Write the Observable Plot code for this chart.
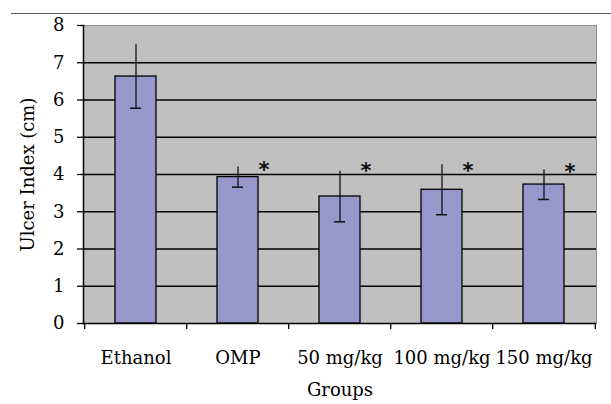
<!DOCTYPE html>
<html>
<head>
<meta charset="utf-8">
<script src="https://cdn.jsdelivr.net/npm/d3@7"></script>
<script src="https://cdn.jsdelivr.net/npm/@observablehq/plot@0.6"></script>
<style>
  html, body { margin: 0; padding: 0; background: white; }
  #wrap { position: relative; width: 611px; height: 404px; }
  #rule { position: absolute; left: 11px; top: 13px; width: 600px; height: 1px; background: #5a5a5a; }
</style>
</head>
<body>
<div id="wrap"><div id="rule"></div></div>
<script>
const groups = ["Ethanol", "OMP", "50 mg/kg", "100 mg/kg", "150 mg/kg"];
const means = [6.63, 3.93, 3.41, 3.59, 3.73];
const errors = [0.85, 0.27, 0.68, 0.67, 0.40];
const starGroups = ["OMP", "50 mg/kg", "100 mg/kg", "150 mg/kg"];
const starY = [4.19, 4.17, 4.17, 4.13];
const yTicks = [0, 1, 2, 3, 4, 5, 6, 7, 8];
const gridValues = [1, 2, 3, 4, 5, 6, 7];

const data = groups.map((g, i) => ({group: g, mean: means[i], err: errors[i]}));
const stars = starGroups.map((g, i) => ({group: g, y: starY[i]}));

const W = 611, H = 404, mL = 83, mR = 15, mT = 25, mB = 81;
const pI = 0.6, pO = 0.3;
const step = (W - mL - mR) / (groups.length - pI + 2 * pO);

const chart = Plot.plot({
  width: W, height: H,
  marginTop: mT, marginBottom: mB, marginLeft: mL, marginRight: mR,
  style: {fontFamily: "DejaVu Serif", fontSize: "18px", background: "transparent", color: "black"},
  x: {domain: groups, paddingInner: pI, paddingOuter: pO, label: null},
  y: {domain: [0, 8], label: null},
  marks: [
    Plot.frame({fill: "#c0c0c0", stroke: "#8c8c8c"}),
    Plot.ruleY(gridValues, {stroke: "black", strokeWidth: 1.5}),
    Plot.barY(data, {x: "group", y: "mean", fill: "#9797cc", stroke: "black", strokeWidth: 1.3}),
    Plot.ruleX(data, {x: "group", y1: d => d.mean - d.err, y2: d => d.mean + d.err, stroke: "#111", strokeWidth: 1.3}),
    Plot.tickY(data, {x: "group", y: d => d.mean - d.err, insetLeft: 15, insetRight: 15, stroke: "#111", strokeWidth: 1.5}),
    Plot.text(stars, {x: "group", y: "y", text: () => "*", dx: 26, dy: 3, fontSize: 21, fontWeight: "bold", fontFamily: "DejaVu Sans", fill: "#111"}),
    Plot.ruleX(groups, {x: d => d, dx: -step / 2, y1: 0, y2: -0.16, stroke: "black", strokeWidth: 1.3}),
    Plot.ruleX(groups.slice(-1), {x: d => d, dx: step / 2, y1: 0, y2: -0.16, stroke: "black", strokeWidth: 1.3}),
    Plot.ruleY([0], {stroke: "black", strokeWidth: 1.5}),
    Plot.frame({anchor: "left", stroke: "black", strokeWidth: 1.5}),
    Plot.axisY({ticks: yTicks, tickSize: 6, tickPadding: 13, strokeWidth: 1.3, label: "Ulcer Index (cm)", labelAnchor: "center", labelOffset: 62, labelArrow: "none"}),
    Plot.axisX({tickSize: 0, tickPadding: 28, label: "Groups", labelAnchor: "center", labelOffset: 72, labelArrow: "none"})
  ]
});
document.getElementById("wrap").appendChild(chart);
</script>
</body>
</html>
